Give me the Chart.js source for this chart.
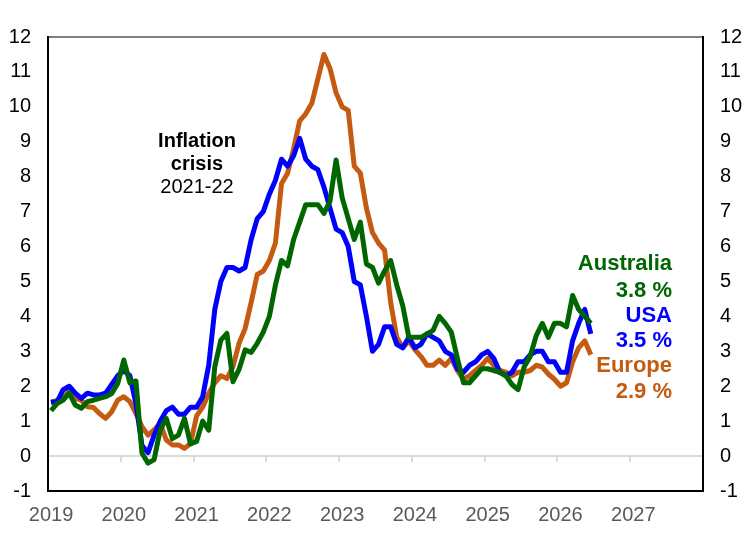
<!DOCTYPE html>
<html>
<head>
<meta charset="utf-8">
<script src="https://cdn.jsdelivr.net/npm/chart.js@4.4.1/dist/chart.umd.min.js"></script>
<style>
  html, body { margin: 0; padding: 0; background: #ffffff; }
  #wrap { width: 747px; height: 540px; }
</style>
</head>
<body>
<div id="wrap"><canvas id="c" width="747" height="540" style="width:747px;height:540px"></canvas></div>
<script>
// ---- Data (monthly, Jan 2019 onward) ----
const yearLabels = ['2019','2020','2021','2022','2023','2024','2025','2026','2027'];

const usa = [
  1.55,1.55,1.9,2.0,1.8,1.65,1.8,1.75,1.75,1.8,2.05,2.3,
  2.45,2.3,1.5,0.3,0.1,0.6,1.0,1.3,1.4,1.2,1.2,1.4,
  1.4,1.7,2.6,4.2,5.0,5.4,5.4,5.3,5.4,6.2,6.8,7.0,
  7.5,7.9,8.5,8.3,8.6,9.1,8.5,8.3,8.2,7.7,7.1,6.5,
  6.4,6.0,5.0,4.9,4.0,3.0,3.2,3.7,3.7,3.2,3.1,3.4,
  3.1,3.2,3.5,3.4,3.3,3.0,2.9,2.5,2.4,2.6,2.7,2.9,
  3.0,2.8,2.4,2.3,2.4,2.7,2.7,2.9,3.0,3.0,2.7,2.7,
  2.4,2.4,3.3,3.8,4.2,3.5
];

const europe = [
  1.53,1.6,1.65,1.86,1.65,1.6,1.41,1.39,1.22,1.08,1.27,1.6,
  1.7,1.56,1.22,0.84,0.6,0.75,0.94,0.46,0.32,0.32,0.22,0.36,
  1.15,1.4,1.8,2.1,2.3,2.22,2.56,3.23,3.65,4.4,5.2,5.3,
  5.6,6.1,7.8,8.1,8.8,9.6,9.8,10.1,10.8,11.5,11.1,10.4,
  10.0,9.9,8.3,8.1,7.1,6.4,6.1,5.9,4.4,3.4,3.1,3.3,
  3.05,2.85,2.6,2.6,2.75,2.6,2.8,2.45,2.2,2.3,2.45,2.6,
  2.8,2.6,2.45,2.4,2.3,2.4,2.4,2.45,2.6,2.55,2.35,2.2,
  2.0,2.1,2.7,3.1,3.3,2.9
];

const australia = [
  1.3,1.5,1.6,1.8,1.46,1.37,1.56,1.6,1.65,1.7,1.79,2.08,
  2.75,2.1,2.15,0.08,-0.2,-0.1,0.75,1.08,0.5,0.6,1.08,0.35,
  0.42,1.0,0.74,2.56,3.32,3.51,2.13,2.48,3.04,2.97,3.23,3.55,
  4.0,4.9,5.6,5.45,6.2,6.7,7.2,7.2,7.2,6.95,7.3,8.48,
  7.4,6.8,6.2,6.7,5.5,5.4,4.95,5.3,5.6,4.9,4.3,3.4,
  3.4,3.4,3.5,3.6,4.0,3.8,3.55,2.8,2.1,2.1,2.3,2.5,
  2.5,2.45,2.4,2.3,2.05,1.9,2.55,2.85,3.45,3.8,3.4,3.8,
  3.8,3.7,4.6,4.2,4.0,3.8
];

const yTicksMin = -1;
const yTicksMax = 12;

// month categories across the axis (2019-2027)
const monthLabels = [];
yearLabels.forEach(y => { for (let mo = 1; mo <= 12; mo++) monthLabels.push(y + '-' + String(mo).padStart(2, '0')); });

const GREEN = '#006600';
const BLUE = '#0000FF';
const ORANGE = '#C55A11';
const FONT = "'Liberation Sans', Arial, sans-serif";

const annotationPlugin = {
  id: 'annot',
  afterDatasetsDraw(chart) {
    const ctx = chart.ctx;
    ctx.save();
    ctx.textBaseline = 'alphabetic';
    // Inflation crisis note
    ctx.textAlign = 'center';
    ctx.fillStyle = '#000000';
    ctx.font = "bold 20px " + FONT;
    ctx.fillText('Inflation', 197, 147);
    ctx.fillText('crisis', 197, 170);
    ctx.font = "20px " + FONT;
    ctx.fillText('2021-22', 197, 193);
    // series labels
    ctx.textAlign = 'right';
    ctx.font = "bold 22px " + FONT;
    const rx = 672;
    const items = [
      ['Australia', GREEN, 270],
      ['3.8 %', GREEN, 296.5],
      ['USA', BLUE, 321.5],
      ['3.5 %', BLUE, 346.5],
      ['Europe', ORANGE, 371.5],
      ['2.9 %', ORANGE, 397.5]
    ];
    items.forEach(([t, c, y]) => { ctx.fillStyle = c; ctx.fillText(t, rx, y); });
    ctx.restore();
  }
};

const yTickFont = { family: FONT, size: 20 };

new Chart(document.getElementById('c'), {
  type: 'line',
  data: {
    labels: monthLabels,
    datasets: [
      { label: 'Australia', data: australia, borderColor: GREEN, order: 1, xAxisID: 'x', yAxisID: 'y' },
      { label: 'USA', data: usa, borderColor: BLUE, order: 2, xAxisID: 'x', yAxisID: 'y' },
      { label: 'Europe', data: europe, borderColor: ORANGE, order: 3, xAxisID: 'x', yAxisID: 'y' }
    ]
  },
  options: {
    responsive: false,
    animation: false,
    devicePixelRatio: 1,
    layout: { padding: 0 },
    plugins: { legend: { display: false }, tooltip: { enabled: false } },
    elements: {
      point: { radius: 0, hoverRadius: 0 },
      line: { borderWidth: 5, tension: 0, fill: false, borderJoinStyle: 'round', borderCapStyle: 'butt' }
    },
    scales: {
      x: {
        type: 'category',
        position: { y: 0 },
        offset: true,
        grid: {
          offset: true,
          drawOnChartArea: false,
          drawTicks: true,
          tickLength: 5,
          lineWidth: 2,
          color: (c) => (c.index % 12 === 0 ? '#d9d9d9' : 'rgba(0,0,0,0)')
        },
        border: { display: true, color: '#d9d9d9', width: 2 },
        ticks: { display: false, autoSkip: false }
      },
      xb: {
        type: 'category',
        position: 'bottom',
        offset: true,
        grid: { display: false, drawTicks: false },
        border: { display: true, color: '#000000', width: 2 },
        ticks: {
          autoSkip: false, maxRotation: 0, minRotation: 0, padding: 12,
          color: '#595959', font: { family: FONT, size: 20 },
          callback: (v, i) => (i % 12 === 0 ? yearLabels[i / 12] : '')
        },
        afterFit: (s) => { s.height = 49; }
      },
      xt: {
        type: 'category',
        position: 'top',
        offset: true,
        grid: { display: false, drawTicks: false },
        border: { display: true, color: '#7f7f7f', width: 2 },
        ticks: { display: false },
        afterFit: (s) => { s.height = 37; }
      },
      y: {
        position: 'left',
        min: yTicksMin, max: yTicksMax,
        grid: { display: false, drawTicks: false },
        border: { display: true, color: '#000000', width: 2 },
        ticks: { stepSize: 1, padding: 17, color: '#000000', font: yTickFont },
        afterFit: (s) => { s.width = 48; }
      },
      y2: {
        position: 'right',
        min: yTicksMin, max: yTicksMax,
        grid: { display: false, drawTicks: false },
        border: { display: true, color: '#000000', width: 2 },
        ticks: { stepSize: 1, padding: 17, color: '#000000', font: yTickFont },
        afterFit: (s) => { s.width = 44; }
      }
    }
  },
  plugins: [annotationPlugin]
});
</script>
</body>
</html>
